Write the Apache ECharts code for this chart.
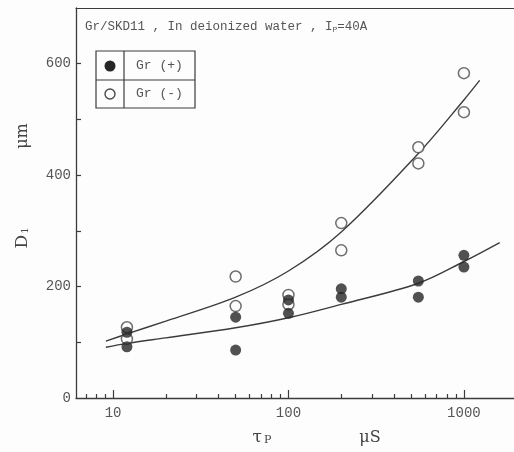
<!DOCTYPE html>
<html>
<head>
<meta charset="utf-8">
<script src="https://cdn.jsdelivr.net/npm/echarts@6/dist/echarts.min.js"></script>
<style>
  html, body { margin: 0; padding: 0; background: #fdfdfd; }
  #chart { width: 514px; height: 452px; }
</style>
</head>
<body>
<div id="chart"></div>
<script>
// Measured crater depth D1 (µm) against pulse duration τP (µs)
const grPlus = [
  [12, 118], [12, 92], [50, 145], [50, 86], [100, 176], [100, 152],
  [200, 196], [200, 181], [550, 210], [550, 181], [1000, 256], [1000, 235]
];
const grMinus = [
  [12, 127], [12, 106], [50, 218], [50, 165], [100, 185], [100, 168],
  [200, 314], [200, 265], [550, 450], [550, 421], [1000, 583], [1000, 513]
];
// Fitted trend curves
const fitMinus = [
  [9.1, 102], [12, 115], [20, 138], [50, 181], [100, 228],
  [200, 298], [550, 439], [1000, 535], [1230, 570]
];
const fitPlus = [
  [9.1, 91], [12, 98], [20, 108], [50, 126], [100, 144],
  [200, 168], [550, 206], [1000, 245], [1600, 279]
];
// Axis ticks and labels
const xMajorTicks = [10, 100, 1000];
const xMinorTicks = [7, 8, 9, 20, 30, 40, 50, 60, 70, 80, 90, 200, 300, 400, 500, 600, 700, 800, 900];
const yLabelValues = [0, 200, 400, 600];
const yTickValues = [100, 200, 300, 400, 500, 600];

const ink = '#3c3c3c';
const textInk = '#555555';
const mono = '"Liberation Mono", "DejaVu Sans Mono", monospace';
const X_MIN = 6.15, X_MAX = 1930;

const chart = echarts.init(document.getElementById('chart'), null, { renderer: 'canvas' });

const logAxisBase = {
  type: 'log', logBase: 10, min: X_MIN, max: X_MAX, gridIndex: 0,
  splitLine: { show: false }
};

chart.setOption({
  backgroundColor: '#fdfdfd',
  animation: false,
  grid: { left: 76, top: 8, right: 0, bottom: 54 },
  xAxis: [
    Object.assign({}, logAxisBase, {
      position: 'bottom',
      axisLine: { show: true, lineStyle: { color: ink, width: 1.3 } },
      axisTick: { show: true, inside: true, length: 8, customValues: xMajorTicks,
                  lineStyle: { color: ink, width: 1.2 } },
      axisLabel: { show: true, customValues: xMajorTicks, margin: 8,
                   formatter: function (v) { return String(Math.round(v)); },
                   color: textInk, fontFamily: mono, fontSize: 14 }
    }),
    Object.assign({}, logAxisBase, {
      position: 'bottom',
      axisLine: { show: false },
      axisTick: { show: true, inside: true, length: 4, customValues: xMinorTicks,
                  lineStyle: { color: ink, width: 1.2 } },
      axisLabel: { show: false }
    }),
    Object.assign({}, logAxisBase, {
      position: 'top',
      axisLine: { show: true, lineStyle: { color: ink, width: 1.2 } },
      axisTick: { show: false },
      axisLabel: { show: false }
    })
  ],
  yAxis: {
    type: 'value', min: 0, max: 700,
    axisLine: { show: true, lineStyle: { color: ink, width: 1.3 } },
    axisTick: { show: true, inside: true, length: 5, customValues: yTickValues,
                lineStyle: { color: ink, width: 1.2 } },
    axisLabel: { customValues: yLabelValues, margin: 5, color: textInk,
                 fontFamily: mono, fontSize: 14 },
    splitLine: { show: false }
  },
  series: [
    {
      name: 'fit Gr(-)', type: 'line', data: fitMinus, smooth: 0.35,
      showSymbol: false, lineStyle: { color: ink, width: 1.4 }, z: 2
    },
    {
      name: 'fit Gr(+)', type: 'line', data: fitPlus, smooth: 0.35,
      showSymbol: false, lineStyle: { color: ink, width: 1.4 }, z: 2
    },
    {
      name: 'Gr (-)', type: 'scatter', data: grMinus, symbol: 'circle', symbolSize: 11,
      itemStyle: { color: '#fdfdfd', borderColor: '#4a4a4a', borderWidth: 1.5 }, z: 3
    },
    {
      name: 'Gr (+)', type: 'scatter', data: grPlus, symbol: 'circle', symbolSize: 11,
      itemStyle: { color: '#262626' }, z: 4
    }
  ],
  graphic: [
    // heading
    {
      type: 'text', left: 85, top: 20, z: 10,
      style: {
        text: 'Gr/SKD11 , In deionized water , I{s|P}=40A',
        fill: textInk, font: '12.5px ' + mono,
        rich: { s: { fontSize: 8, fill: textInk, fontFamily: mono, verticalAlign: 'bottom', padding: [6, 0, 0, 0] } }
      }
    },
    // key box
    { type: 'rect', shape: { x: 96, y: 51, width: 99, height: 57 }, z: 10,
      style: { fill: 'none', stroke: ink, lineWidth: 1.2 } },
    { type: 'line', shape: { x1: 124, y1: 51, x2: 124, y2: 108 }, z: 10,
      style: { stroke: ink, lineWidth: 1.2 } },
    { type: 'line', shape: { x1: 96, y1: 80, x2: 195, y2: 80 }, z: 10,
      style: { stroke: ink, lineWidth: 1.2 } },
    { type: 'circle', shape: { cx: 110, cy: 66, r: 5.5 }, z: 10,
      style: { fill: '#262626' } },
    { type: 'circle', shape: { cx: 110, cy: 94, r: 5 }, z: 10,
      style: { fill: 'none', stroke: '#4a4a4a', lineWidth: 1.4 } },
    { type: 'text', x: 136, y: 66, z: 10,
      style: { text: 'Gr (+)', fill: textInk, font: '13px ' + mono, verticalAlign: 'middle' } },
    { type: 'text', x: 136, y: 94, z: 10,
      style: { text: 'Gr (-)', fill: textInk, font: '13px ' + mono, verticalAlign: 'middle' } },
    // axis names
    { type: 'text', x: 262, y: 438, z: 10,
      style: { text: 'τ{s|P}', fill: '#444', font: '17px "DejaVu Serif", serif',
               align: 'center', verticalAlign: 'middle',
               rich: { s: { fontSize: 11, fill: '#444', fontFamily: '"DejaVu Serif", serif', padding: [4, 0, 0, 2] } } } },
    { type: 'text', x: 370, y: 438, z: 10,
      style: { text: 'μS', fill: '#444', font: '16px "DejaVu Serif", serif',
               align: 'center', verticalAlign: 'middle' } },
    { type: 'text', x: 23, y: 238, rotation: Math.PI / 2, z: 10,
      style: { text: 'D{s|1}', fill: '#444', font: '17px "DejaVu Serif", serif',
               align: 'center', verticalAlign: 'middle',
               rich: { s: { fontSize: 10, fill: '#444', fontFamily: '"DejaVu Serif", serif', padding: [5, 0, 0, 1] } } } },
    { type: 'text', x: 23, y: 136, rotation: Math.PI / 2, z: 10,
      style: { text: 'μm', fill: '#444', font: '16px "DejaVu Serif", serif',
               align: 'center', verticalAlign: 'middle' } }
  ]
});
</script>
</body>
</html>
